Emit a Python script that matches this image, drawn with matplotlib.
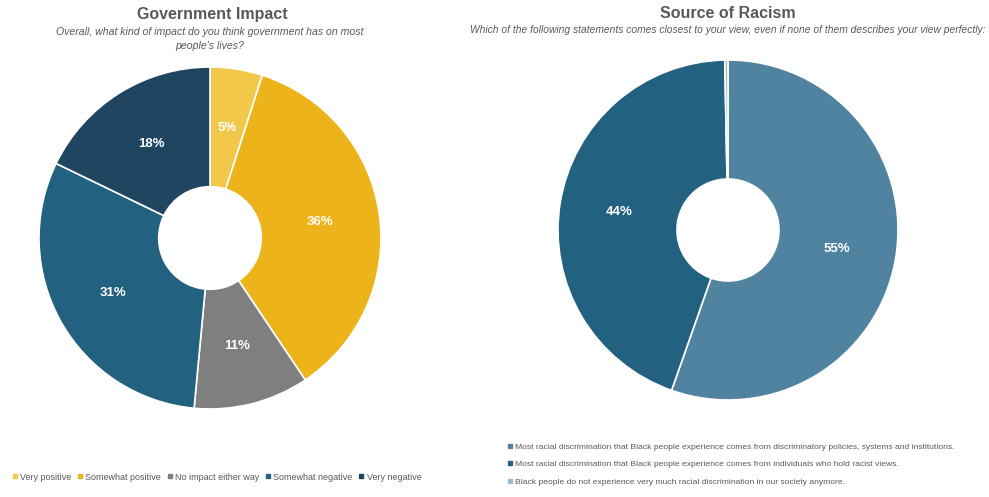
import numpy as np
import matplotlib.pyplot as plt
from matplotlib.lines import Line2D

# Government impact data (clockwise from 12 o'clock)
gov_labels = ["Very positive", "Somewhat positive", "No impact either way",
              "Somewhat negative", "Very negative"]
gov_values = [5, 36, 11, 31, 18]
gov_colors = ["#F2C84B", "#EDB31A", "#7F7F7F", "#22617F", "#1F4560"]

# Source of racism data
rac_labels = ["Most racial discrimination that Black people experience comes from discriminatory policies, systems and institutions.",
              "Most racial discrimination that Black people experience comes from individuals who hold racist views.",
              "Black people do not experience very much racial discrimination in our society anymore."]
rac_values = [55, 44, 0.3]
rac_colors = ["#4F83A0", "#22617F", "#9DBACD"]

W, H = 989, 497
fig = plt.figure(figsize=(W / 100, H / 100), dpi=100)
plt.rcParams['font.family'] = ['Liberation Sans', 'DejaVu Sans']
grey = "#595959"


def draw_donut(cx, cy, r, values, colors):
    ax = fig.add_axes([(cx - r) / W, (H - cy - r) / H, 2 * r / W, 2 * r / H])
    wedges, texts = ax.pie(values, colors=colors, startangle=90, counterclock=False,
                           radius=1, wedgeprops=dict(width=0.7, edgecolor='white', linewidth=1.2))
    ax.set_xlim(-1, 1)
    ax.set_ylim(-1, 1)
    ax.set_aspect('equal')
    ax.axis('off')
    for w, v in zip(wedges, values):
        if v < 3:
            continue
        ang = np.deg2rad((w.theta1 + w.theta2) / 2)
        ax.text(0.65 * np.cos(ang), 0.65 * np.sin(ang), f"{v}%", ha='center', va='center',
                color='white', fontsize=9.5, fontweight='bold')
    return ax


ax1 = draw_donut(210, 238, 171, gov_values, gov_colors)
ax2 = draw_donut(728, 230, 170, rac_values, rac_colors)

# Titles
fig.text(212 / W, 1 - 14 / H, "Government Impact", ha='center', va='center',
         fontsize=11.5, fontweight='bold', color=grey)
fig.text(210 / W, 1 - 39 / H, "Overall, what kind of impact do you think government has on most\npeople's lives?",
         ha='center', va='center', fontsize=7.6, style='italic', color=grey, linespacing=1.4)
fig.text(728 / W, 1 - 13 / H, "Source of Racism", ha='center', va='center',
         fontsize=11.5, fontweight='bold', color=grey)
fig.text(728 / W, 1 - 30 / H, "Which of the following statements comes closest to your view, even if none of them describes your view perfectly:",
         ha='center', va='center', fontsize=7.4, style='italic', color=grey)

# Legends
h1 = [Line2D([], [], marker='s', linestyle='', markersize=3.0, color=c) for c in gov_colors]
fig.legend(h1, gov_labels, loc='center', bbox_to_anchor=(217 / W, 1 - 477 / H), ncol=5,
           frameon=False, fontsize=6.5, handlelength=0.5, handletextpad=0.35, columnspacing=0.7,
           labelcolor=grey)
h2 = [Line2D([], [], marker='s', linestyle='', markersize=3.0, color=c) for c in rac_colors]
fig.legend(h2, rac_labels, loc='upper left', bbox_to_anchor=(500 / W, 1 - 435 / H), ncol=1,
           frameon=False, fontsize=6.1, handlelength=0.5, handletextpad=0.35, labelspacing=1.15,
           labelcolor=grey)

fig.savefig("out.png", dpi=100)
